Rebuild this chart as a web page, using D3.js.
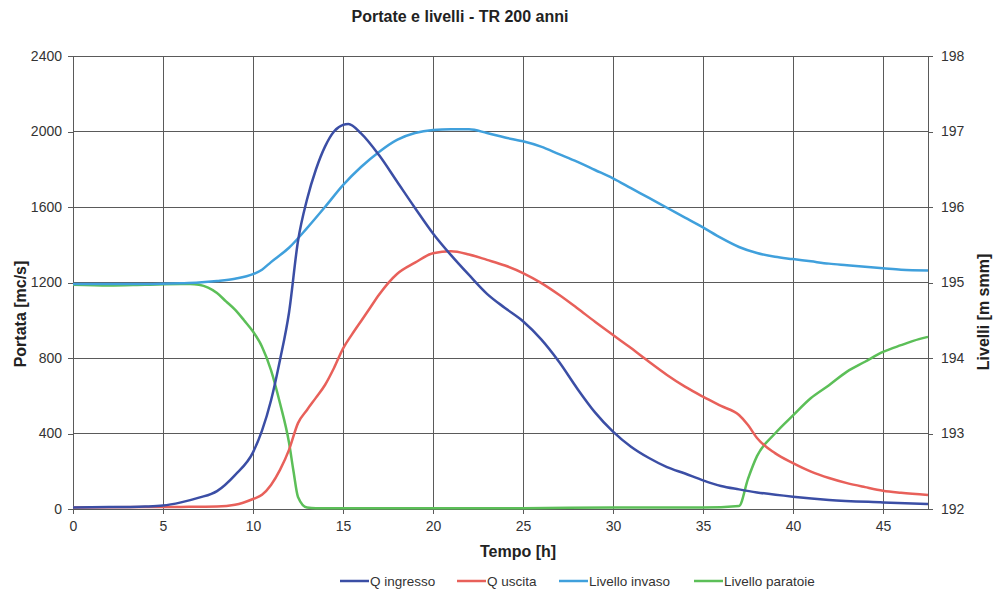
<!DOCTYPE html>
<html lang="it">
<head>
    <meta charset="UTF-8">
    <title>Portate e livelli - TR 200 anni</title>
    <script src="https://d3js.org/d3.v7.min.js"></script>
    <style>
        body {
            margin: 0;
            background: #fff;
            font-family: 'Liberation Sans', Arial, sans-serif;
        }
        .grid line {
            stroke: #5a5a5a;
            stroke-width: 1px;
            shape-rendering: crispEdges;
        }
        .axis path,
        .axis line {
            stroke: #5a5a5a;
            shape-rendering: crispEdges;
        }
        .axis text {
            font-size: 14px;
            fill: #333;
        }
        .line {
            fill: none;
            stroke-width: 2.5px;
        }
    </style>
</head>
<body>
    <div id="chart"></div>

    <script>
        // Q ingresso [mc/s]
        const qInT = [0, 1, 2, 3, 4, 5, 6, 7, 8, 9, 10, 10.5, 11, 11.5, 12, 12.5, 13, 13.5, 14, 14.5, 15, 15.3, 16, 17, 18, 19, 20, 21, 22, 23, 24, 25, 26, 27, 28, 29, 30, 31, 32, 33, 34, 35, 36, 37, 38, 40, 42, 45, 47.5];
        const qIn = [8, 9, 10, 11, 13, 18, 35, 60, 95, 180, 300, 415, 575, 790, 1040, 1420, 1640, 1800, 1920, 2000, 2035, 2040, 1990, 1875, 1735, 1595, 1460, 1345, 1240, 1140, 1065, 995, 900, 780, 640, 512, 410, 330, 270, 222, 188, 152, 122, 104, 88, 65, 48, 35, 26];

        // Q uscita [mc/s]
        const qOutT = [0, 2, 4, 6, 8, 9, 10, 10.5, 11, 11.5, 12, 12.5, 13, 13.5, 14, 14.5, 15, 15.5, 16, 16.5, 17, 18, 19, 20, 21, 22, 23, 24, 25, 26, 27, 28, 29, 30, 31, 32, 33, 34, 35, 36, 37, 37.5, 38, 39, 40, 41, 42, 43, 44, 45, 46, 47.5];
        const qOut = [8, 9, 10, 11, 13, 22, 53, 75, 127, 207, 313, 455, 525, 590, 657, 747, 850, 925, 995, 1065, 1135, 1245, 1305, 1355, 1365, 1348, 1320, 1290, 1250, 1198, 1135, 1065, 992, 922, 853, 780, 710, 648, 595, 546, 498, 445, 376, 296, 243, 198, 164, 137, 116, 97, 86, 74];

        // Livello invaso [m smm]
        const lvInvT = [0, 2, 4, 6, 7, 8, 9, 10, 10.5, 11, 12, 13, 14, 15, 16, 17, 18, 19, 20, 21, 22, 23, 24, 25, 26, 27, 28, 29, 30, 31, 32, 33, 34, 35, 36, 37, 38, 39, 40, 41, 42, 43, 44, 45, 46, 47.5];
        const lvInv = [194.98, 194.98, 194.98, 194.99, 195.0, 195.02, 195.05, 195.11, 195.17, 195.27, 195.46, 195.72, 196.0, 196.29, 196.53, 196.73, 196.89, 196.98, 197.02, 197.03, 197.03, 196.98, 196.92, 196.87, 196.8, 196.7, 196.6, 196.49, 196.38, 196.25, 196.12, 195.99, 195.86, 195.73, 195.59, 195.47, 195.39, 195.34, 195.31, 195.28, 195.25, 195.23, 195.21, 195.19, 195.17, 195.16];

        // Livello paratoie [m smm]
        const lvParT = [0, 2, 4, 6, 6.5, 7, 8, 8.5, 9, 9.5, 10, 10.5, 11, 11.5, 12, 12.25, 12.5, 13, 13.5, 15, 20, 25, 30, 35, 37, 37.5, 38, 39, 40, 41, 42, 43, 44, 45, 46, 47, 47.5];
        const lvPar = [194.97, 194.96, 194.97, 194.98, 194.98, 194.97, 194.86, 194.75, 194.64, 194.5, 194.35, 194.15, 193.84, 193.4, 192.88, 192.5, 192.16, 192.02, 192.01, 192.01, 192.01, 192.01, 192.02, 192.02, 192.04, 192.4, 192.7, 193.0, 193.24, 193.47, 193.64, 193.82, 193.95, 194.08, 194.17, 194.25, 194.28];

        const xTicks = [0, 5, 10, 15, 20, 25, 30, 35, 40, 45];
        const yLeftTicks = [0, 400, 800, 1200, 1600, 2000, 2400];
        const yRightTicks = [192, 193, 194, 195, 196, 197, 198];

        const seriesNames = ["Q ingresso", "Q uscita", "Livello invaso", "Livello paratoie"];
        const seriesColors = ["#3b4ea5", "#e8605a", "#40a0dc", "#5cbf58"];

        const W = 995, H = 592;
        const margin = {top: 56, right: 67, bottom: 83, left: 73};
        const width = W - margin.left - margin.right;
        const height = H - margin.top - margin.bottom;

        const svg = d3.select("#chart")
            .append("svg")
            .attr("width", W)
            .attr("height", H);

        const g = svg.append("g")
            .attr("transform", `translate(${margin.left},${margin.top})`);

        const x = d3.scaleLinear().domain([0, 47.5]).range([0, width]);
        const yL = d3.scaleLinear().domain([0, 2400]).range([height, 0]);
        const yR = d3.scaleLinear().domain([192, 198]).range([height, 0]);

        // grid
        g.append("g").attr("class", "grid")
            .selectAll("line.v")
            .data(xTicks)
            .join("line")
            .attr("x1", d => x(d)).attr("x2", d => x(d))
            .attr("y1", 0).attr("y2", height);

        g.append("g").attr("class", "grid")
            .selectAll("line.h")
            .data(yLeftTicks)
            .join("line")
            .attr("x1", 0).attr("x2", width)
            .attr("y1", d => yL(d)).attr("y2", d => yL(d));

        // axes
        const fmt = d3.format("d");

        g.append("g")
            .attr("class", "axis")
            .attr("transform", `translate(0,${height})`)
            .call(d3.axisBottom(x).tickValues(xTicks).tickFormat(fmt).tickSize(5).tickSizeOuter(0).tickPadding(4))
            .selectAll("text").attr("dy", "0.9em");

        g.append("g")
            .attr("class", "axis")
            .call(d3.axisLeft(yL).tickValues(yLeftTicks).tickFormat(fmt).tickSize(5).tickSizeOuter(0).tickPadding(6));

        g.append("g")
            .attr("class", "axis")
            .attr("transform", `translate(${width},0)`)
            .call(d3.axisRight(yR).tickValues(yRightTicks).tickFormat(fmt).tickSize(5).tickSizeOuter(0).tickPadding(8));

        // lines
        const lineL = d3.line()
            .x(d => x(d[0]))
            .y(d => yL(d[1]))
            .curve(d3.curveMonotoneX);

        const lineR = d3.line()
            .x(d => x(d[0]))
            .y(d => yR(d[1]))
            .curve(d3.curveMonotoneX);

        const zip = (a, b) => a.map((t, i) => [t, b[i]]);

        g.append("path").datum(zip(lvParT, lvPar)).attr("class", "line")
            .attr("stroke", seriesColors[3]).attr("d", lineR);
        g.append("path").datum(zip(lvInvT, lvInv)).attr("class", "line")
            .attr("stroke", seriesColors[2]).attr("d", lineR);
        g.append("path").datum(zip(qOutT, qOut)).attr("class", "line")
            .attr("stroke", seriesColors[1]).attr("d", lineL);
        g.append("path").datum(zip(qInT, qIn)).attr("class", "line")
            .attr("stroke", seriesColors[0]).attr("d", lineL);

        // title and axis labels
        svg.append("text")
            .attr("x", 460).attr("y", 22)
            .attr("text-anchor", "middle")
            .attr("font-size", "16px")
            .attr("font-weight", "bold")
            .attr("fill", "#222")
            .text("Portate e livelli - TR 200 anni");

        svg.append("text")
            .attr("x", 518).attr("y", 557)
            .attr("text-anchor", "middle")
            .attr("font-size", "16px")
            .attr("font-weight", "bold")
            .attr("fill", "#222")
            .text("Tempo [h]");

        svg.append("text")
            .attr("transform", "translate(26,314) rotate(-90)")
            .attr("text-anchor", "middle")
            .attr("font-size", "16px")
            .attr("font-weight", "bold")
            .attr("fill", "#222")
            .text("Portata [mc/s]");

        svg.append("text")
            .attr("transform", "translate(989,312) rotate(-90)")
            .attr("text-anchor", "middle")
            .attr("font-size", "16px")
            .attr("font-weight", "bold")
            .attr("fill", "#222")
            .text("Livelli [m smm]");

        // legend
        const legendX = [340, 457, 559, 694];
        const legend = svg.append("g").attr("transform", "translate(0,581)");
        const items = legend.selectAll("g")
            .data(seriesNames)
            .join("g")
            .attr("transform", (d, i) => `translate(${legendX[i]},0)`);

        items.append("line")
            .attr("x1", 0).attr("x2", 29)
            .attr("y1", 0).attr("y2", 0)
            .attr("stroke", (d, i) => seriesColors[i])
            .attr("stroke-width", 2.5);

        items.append("text")
            .attr("x", 30).attr("y", 5)
            .attr("font-size", "13.5px")
            .attr("fill", "#333")
            .text(d => d);
    </script>
</body>
</html>
